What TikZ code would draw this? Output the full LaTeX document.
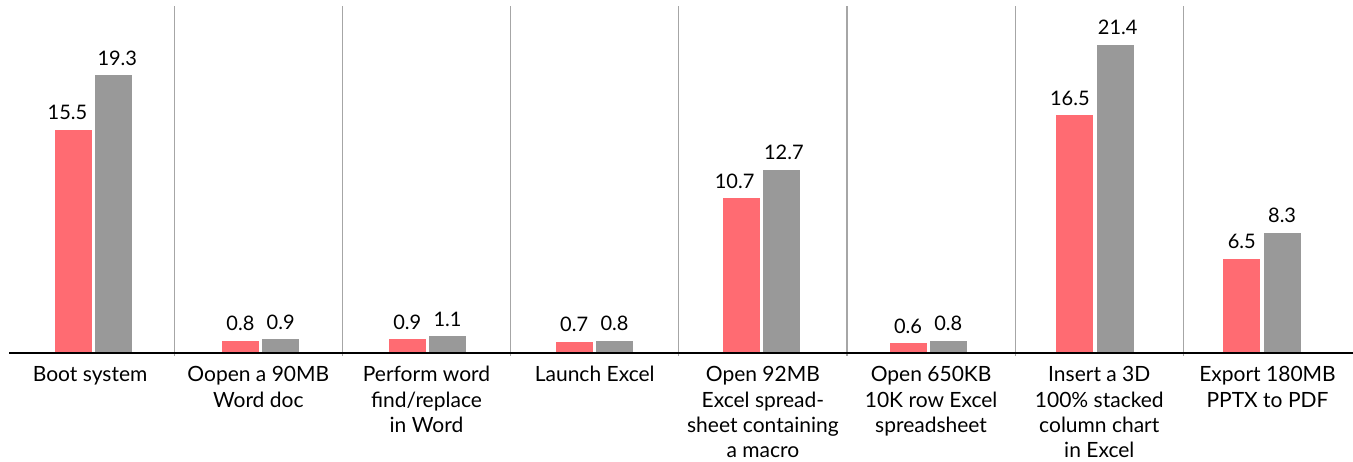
\documentclass[tikz,border=0pt]{standalone}
\usepackage{fontspec}
\setmainfont{Lato}
\definecolor{barred}{HTML}{FF6B72}
\definecolor{bargray}{HTML}{999999}
\definecolor{divgray}{HTML}{A6A6A6}
\begin{document}
\begin{tikzpicture}[x=1pt,y=-1pt,
  valuelabel/.style={anchor=base,inner sep=0pt,font=\fontsize{20}{23}\selectfont},
  catlabel/.style={anchor=north,inner sep=0pt,align=center,font=\fontsize{21}{25.4}\selectfont},
  divider/.style={draw=divgray,line width=1.2pt},
  axisline/.style={draw=black,line width=2.5pt}]
\useasboundingbox (0,0) rectangle (1353,461);
% baseline of the bars (in px from the top) and px per unit
\def\base{352}
\def\sc{14.35}
% group separators
\foreach \k in {1,...,7}{
  \coordinate (dtop\k) at ({6+168.2*\k},6);
  \coordinate (dbot\k) at ({6+168.2*\k},356);
  \draw[divider] (dtop\k) -- (dbot\k);
}
% paired bars: index / first value / second value / label shifts
\foreach \i/\a/\b/\sa/\sb in {0/15.5/19.3/-6/3.5, 1/0.8/0.9/0/0, 2/0.9/1.1/0/0, 3/0.7/0.8/0/0,
    4/10.7/12.7/-6.5/2.5, 5/0.6/0.8/0/0, 6/16.5/21.4/-5/2.5, 7/6.5/8.3/0/0}{
  \pgfmathsetmacro{\xl}{55+166.9*\i}
  \pgfmathsetmacro{\xg}{\xl+40.3}
  \pgfmathsetmacro{\ya}{\base-\sc*\a}
  \pgfmathsetmacro{\yb}{\base-\sc*\b}
  \fill[barred] (\xl,\base) rectangle ({\xl+37},\ya);
  \fill[bargray] (\xg,\base) rectangle ({\xg+37},\yb);
  \node[valuelabel] (va\i) at ({\xl+18.5+\sa},{\ya-10}) {\a};
  \node[valuelabel] (vb\i) at ({\xg+18.5+\sb},{\yb-10}) {\b};
}
% horizontal axis
\coordinate (axl) at (9,353);
\coordinate (axr) at (1353,353);
\draw[axisline] (axl) -- (axr);
% category labels; the strut fixes the first baseline
\foreach \i/\t in {0/{Boot system}, 1/{Oopen a 90MB\\Word doc}, 2/{Perform word\\find/replace\\in Word},
    3/{Launch Excel}, 4/{Open 92MB\\Excel spread-\\sheet containing\\a macro}, 5/{Open 650KB\\10K row Excel\\spreadsheet},
    6/{Insert a 3D\\100\% stacked\\column chart\\in Excel}, 7/{Export 180MB\\PPTX to PDF}}{
  \node[catlabel] (cat\i) at ({90.1+168.2*\i},363.7) {\strut\t};
}
\end{tikzpicture}
\end{document}
